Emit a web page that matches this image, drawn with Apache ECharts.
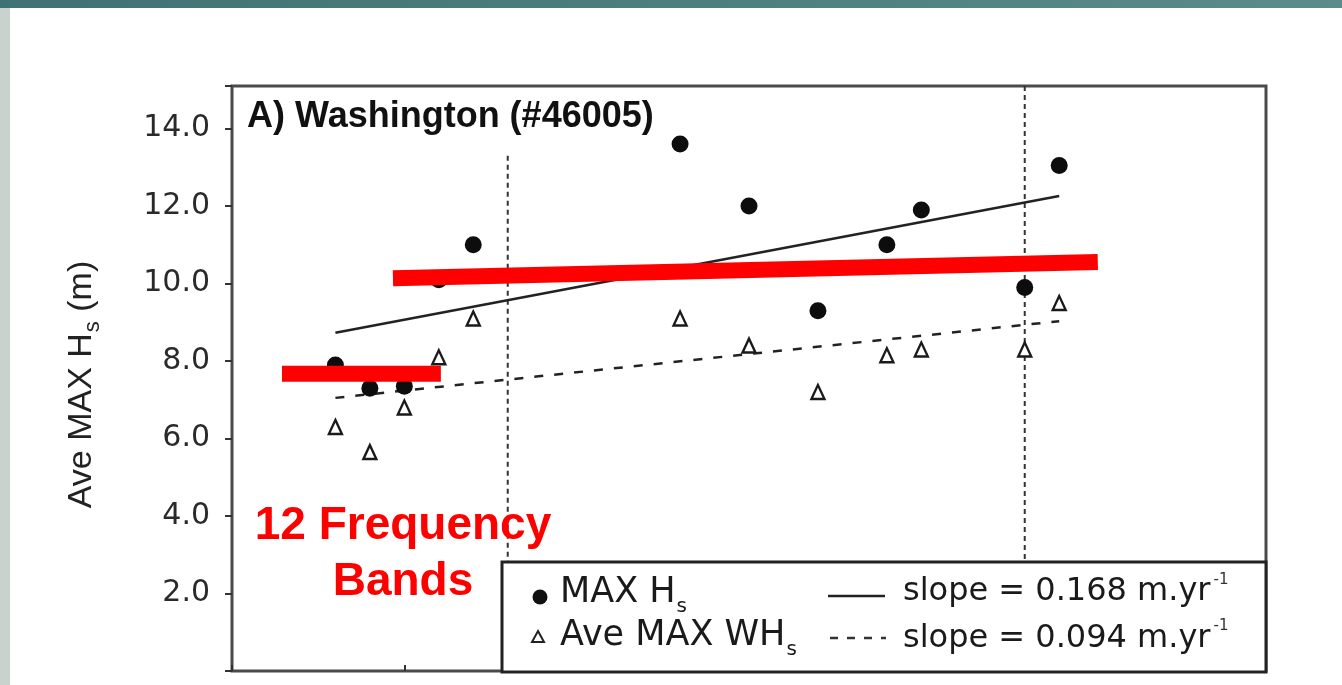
<!DOCTYPE html>
<html>
<head>
<meta charset="utf-8">
<script src="https://cdn.jsdelivr.net/npm/echarts@6/dist/echarts.min.js"></script>
<style>
html,body{margin:0;padding:0;background:#fff;}
#chart{width:1342px;height:685px;}
</style>
</head>
<body>
<div id="chart"></div>
<script>
// ---- data ----
var years   = [1978, 1979, 1980, 1981, 1982, 1988, 1990, 1992, 1994, 1995, 1998, 1999];
var maxHs   = [7.9, 7.3, 7.35, 10.1, 11.0, 13.6, 12.0, 9.3, 11.0, 11.9, 9.9, 13.05];
var aveMaxWHs = [6.3, 5.65, 6.8, 8.1, 9.1, 9.1, 8.4, 7.2, 8.15, 8.3, 8.3, 9.5];
var trendMaxHs = [[1978, 8.73], [1999, 12.26]];
var trendAveWHs = [[1978, 7.05], [1999, 9.03]];
var markerYears = [1983, 1998];
var markerTops = [13.3, 15.1];
var markerBottom = 2.81;
var redBarA = [[1976.45, 7.67], [1981.06, 7.67]];
var redBarB = [[1979.67, 10.14], [2000.12, 10.56]];
var yTicks = [2, 4, 6, 8, 10, 12, 14];
var titleText = 'A) Washington (#46005)';
var yName = ['Ave MAX H', 's', ' (m)'];
var legendLabels = [['MAX H', 's'], ['Ave MAX WH', 's']];
var slopeLabels = ['slope = 0.168 m.yr', 'slope = 0.094 m.yr'];
var noteLines = ['12 Frequency', 'Bands'];

function zip(xs, ys) { return xs.map(function (x, i) { return [x, ys[i]]; }); }
var cnv = document.createElement('canvas').getContext('2d');
function tw(text, font) { cnv.font = font; return cnv.measureText(text).width; }

var chart = echarts.init(document.getElementById('chart'), null, {renderer: 'canvas'});

var series = [
  {type: 'scatter', data: zip(years, maxHs), symbol: 'circle', symbolSize: 17,
   itemStyle: {color: '#0d0d0d', opacity: 1}, z: 3},
  {type: 'scatter', data: zip(years, aveMaxWHs), symbol: 'triangle', symbolSize: [13, 14],
   itemStyle: {color: '#fff', borderColor: '#1a1a1a', borderWidth: 2.4, opacity: 1}, z: 3},
  {type: 'line', data: trendMaxHs, symbol: 'none', lineStyle: {color: '#222', width: 2.5}, z: 2},
  {type: 'line', data: trendAveWHs, symbol: 'none', lineStyle: {color: '#222', width: 2.5, type: [9, 11]}, z: 2}
];
markerYears.forEach(function (yr, i) {
  series.push({type: 'line', data: [[yr, markerTops[i]], [yr, markerBottom]], symbol: 'none',
    lineStyle: {color: '#333', width: 2, type: [5, 4]}, z: 1});
});
[redBarA, redBarB].forEach(function (bar) {
  series.push({type: 'line', data: bar, symbol: 'none',
    lineStyle: {color: '#ff0000', width: 16, cap: 'butt'}, z: 10});
});

var legFont = '35px "DejaVu Sans"';
var slopeFont = '32px "DejaVu Sans"';
var graphics = [
  {type: 'rect', shape: {x: 0, y: 0, width: 1342, height: 8}, style: {fill: new echarts.graphic.LinearGradient(0, 0, 1, 0, [{offset: 0, color: '#3f7272'}, {offset: 1, color: '#5b8b8b'}])}, z: 50},
  {type: 'rect', shape: {x: 0, y: 8, width: 10, height: 677}, style: {fill: '#c9d3cd'}, z: 50},
  {type: 'text', x: 247, y: 117, style: {text: titleText, font: 'bold 36px "Liberation Sans"', fill: '#111', textAlign: 'left', textVerticalAlign: 'middle'}, z: 50},
  {type: 'text', x: 403, y: 526, style: {text: noteLines[0], font: 'bold 46px "Liberation Sans"', fill: '#ff0000', textAlign: 'center', textVerticalAlign: 'middle'}, z: 60},
  {type: 'text', x: 403, y: 582, style: {text: noteLines[1], font: 'bold 46px "Liberation Sans"', fill: '#ff0000', textAlign: 'center', textVerticalAlign: 'middle'}, z: 60},
  // legend box
  {type: 'rect', shape: {x: 502, y: 562, width: 764, height: 110}, style: {fill: '#fff', stroke: '#222', lineWidth: 3}, z: 40},
  {type: 'circle', shape: {cx: 540, cy: 597, r: 7.5}, style: {fill: '#111'}, z: 45},
  {type: 'polygon', shape: {points: [[538, 631], [544, 642], [532, 642]]}, style: {fill: '#fff', stroke: '#222', lineWidth: 2}, z: 45},
  {type: 'line', shape: {x1: 828, y1: 596, x2: 885, y2: 596}, style: {stroke: '#222', lineWidth: 2.5}, z: 45},
  {type: 'line', shape: {x1: 830, y1: 638, x2: 886, y2: 638}, style: {stroke: '#333', lineWidth: 2.5, lineDash: [8, 9]}, z: 45}
];
var rowsMid = [593, 636];
legendLabels.forEach(function (lab, i) {
  var w = tw(lab[0], legFont);
  graphics.push({type: 'text', x: 560, y: rowsMid[i], style: {text: lab[0], font: legFont, fill: '#1a1a1a', textVerticalAlign: 'middle'}, z: 45});
  graphics.push({type: 'text', x: 560 + w + 1, y: rowsMid[i] + 14, style: {text: lab[1], font: '20px "DejaVu Sans"', fill: '#1a1a1a', textVerticalAlign: 'middle'}, z: 45});
});
var slopeMid = [592, 639];
var supMid = [580, 626];
slopeLabels.forEach(function (lab, i) {
  var w = tw(lab, slopeFont);
  graphics.push({type: 'text', x: 903, y: slopeMid[i], style: {text: lab, font: slopeFont, fill: '#1a1a1a', textVerticalAlign: 'middle'}, z: 45});
  graphics.push({type: 'text', x: 903 + w + 3, y: supMid[i], style: {text: '-1', font: '15px "DejaVu Sans"', fill: '#333', textVerticalAlign: 'middle'}, z: 45});
});
// y axis name (rotated)
(function () {
  var f = '34px "Liberation Sans"', fs = '22px "Liberation Sans"';
  var w0 = tw(yName[0], f), w1 = tw(yName[1], fs), w2 = tw(yName[2], f);
  var total = w0 + w1 + w2;
  var cx = 82, cy = 385;
  var start = cy + total / 2; // bottom end (text reads upward)
  graphics.push({type: 'text', x: cx, y: start, rotation: Math.PI / 2,
    style: {text: yName[0], font: f, fill: '#222', textAlign: 'left', textVerticalAlign: 'middle'}, z: 50});
  graphics.push({type: 'text', x: cx + 11, y: start - w0 - 1, rotation: Math.PI / 2,
    style: {text: yName[1], font: fs, fill: '#222', textAlign: 'left', textVerticalAlign: 'middle'}, z: 50});
  graphics.push({type: 'text', x: cx, y: start - w0 - w1 - 1, rotation: Math.PI / 2,
    style: {text: yName[2], font: f, fill: '#222', textAlign: 'left', textVerticalAlign: 'middle'}, z: 50});
})();

chart.setOption({
  animation: false,
  backgroundColor: '#fff',
  grid: {left: 232, top: 86, right: 76, bottom: 14, show: true, borderColor: '#4a4a4a', borderWidth: 3, backgroundColor: 'transparent'},
  xAxis: {type: 'value', min: 1975, max: 2005, interval: 5,
    axisLine: {show: false}, axisLabel: {show: false},
    axisTick: {show: true, inside: true, length: 6, lineStyle: {color: '#333', width: 2}},
    splitLine: {show: false}},
  yAxis: {type: 'value', min: 0, max: 15.1, interval: 2,
    axisLine: {show: false},
    axisTick: {show: true, length: 7, lineStyle: {color: '#333', width: 2}},
    axisLabel: {margin: 22, fontFamily: 'DejaVu Sans', fontSize: 30, color: '#2a2a2a',
      formatter: function (v) { return yTicks.indexOf(v) >= 0 ? v.toFixed(1) : ''; }},
    splitLine: {show: false}},
  series: series,
  graphic: graphics
});
</script>
</body>
</html>
